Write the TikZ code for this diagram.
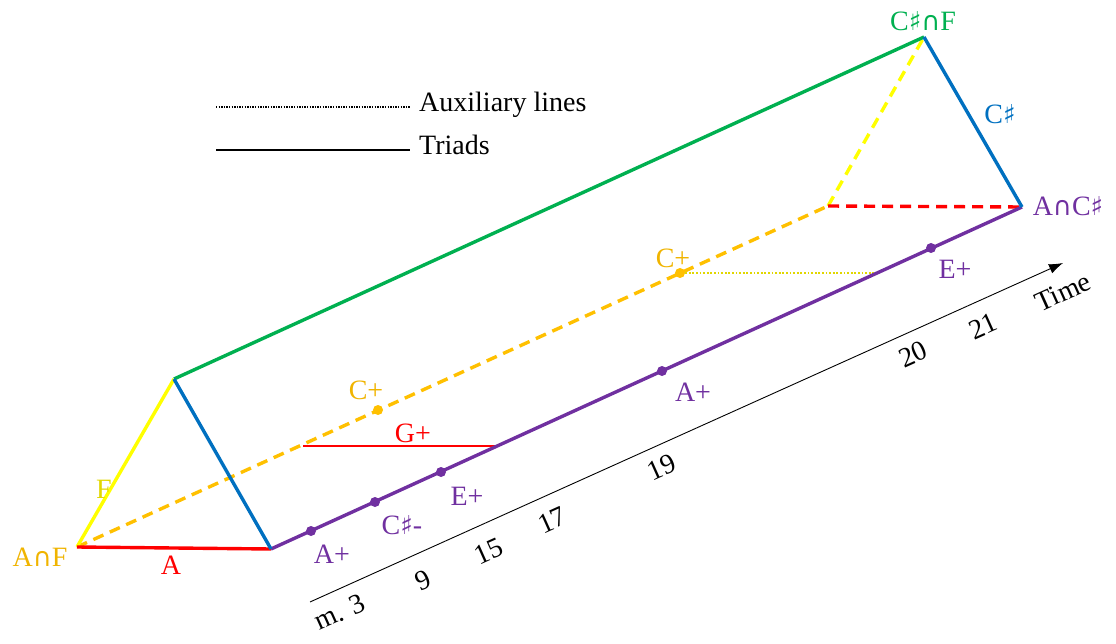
\documentclass[tikz,border=0pt]{standalone}
\usepackage{fontspec}
\setmainfont{Liberation Serif}
\newfontfamily\symf{DejaVu Sans}
\usetikzlibrary{arrows.meta}
\definecolor{cgreen}{RGB}{0,176,80}
\definecolor{cblue}{RGB}{0,112,192}
\definecolor{cpurple}{RGB}{112,48,160}
\definecolor{corange}{RGB}{255,192,0}
\definecolor{ctorange}{RGB}{240,180,0}
\definecolor{cyellow}{RGB}{255,255,0}
\definecolor{ctyellow}{RGB}{225,215,0}
\definecolor{cred}{RGB}{255,0,0}
\newcommand\shp{{\symf\fontsize{26}{30}\selectfont\char"266F}}
\newcommand\capx{{\symf\fontsize{26}{30}\selectfont\char"2229}}
\begin{document}
\begin{tikzpicture}[x=1pt,y=-1pt,
  edge/.style={line width=3.4pt},
  dashedge/.style={line width=3.4pt, dash pattern=on 11pt off 7pt},
  lbl/.style={font=\fontsize{28}{32}\selectfont, inner sep=1pt},
  tick/.style={lbl, rotate=24.2},
  dot/.style={circle, fill, inner sep=0pt, minimum size=10pt}]
\useasboundingbox (0,0) rectangle (1116,644);
% vertices
\coordinate (AF) at (77,547);
\coordinate (FR) at (271,549);
\coordinate (FT) at (174,379);
\coordinate (BT) at (924,37);
\coordinate (BR) at (1022,207);
\coordinate (BL) at (828,206);
% hidden/back edges
\draw[dashedge, corange] (AF) -- (BL);
\draw[dashedge, cyellow] (BL) -- (BT);
\draw[dashedge, cred] (BL) -- (BR);
% auxiliary lines
\coordinate (G1) at (303,446);
\coordinate (G2) at (498,446);
\draw[line width=1.8pt, cred] (G1) -- (G2);
\node[lbl, text=cred] (Glab) at (413,433) {G+};
\node[dot, corange] (C1) at (378,410) {};
\node[dot, corange] (C2) at (680,273) {};
\coordinate (C2e) at (874,273);
\draw[line width=1.8pt, ctyellow, dash pattern=on 1.8pt off 1.8pt] (C2) -- (C2e);
% front/visible edges
\draw[edge, cgreen] (FT) -- (BT);
\draw[edge, cpurple] (FR) -- (BR);
\draw[edge, cyellow] (AF) -- (FT);
\draw[edge, cred] (AF) -- (FR);
\draw[edge, cblue] (FT) -- (FR);
\draw[edge, cblue] (BT) -- (BR);
% purple dots
\node[dot, cpurple] (P1) at (311,531) {};
\node[dot, cpurple] (P2) at (375,502) {};
\node[dot, cpurple] (P3) at (441,472) {};
\node[dot, cpurple] (P4) at (662,371) {};
\node[dot, cpurple] (P5) at (931,248) {};
% vertex labels
\node[lbl, text=ctorange] (lAF) at (40,557) {A\capx F};
\node[lbl, text=cred] (lA) at (171,565) {A};
\node[lbl, text=ctyellow] (lF) at (104,489) {F};
\node[lbl, text=cgreen] (lBT) at (923,21) {C\shp\capx F};
\node[lbl, text=cblue] (lCs) at (1000,114) {C\shp};
\node[lbl, text=cpurple] (lBR) at (1068,206) {A\capx C\shp};
% chord labels
\node[lbl, text=cpurple] (lP1) at (332,554) {A+};
\node[lbl, text=cpurple] (lP2) at (402,525) {C\shp-};
\node[lbl, text=cpurple] (lP3) at (467,496) {E+};
\node[lbl, text=cpurple] (lP4) at (693,392) {A+};
\node[lbl, text=cpurple] (lP5) at (955,269) {E+};
\node[lbl, text=ctorange] (lC1) at (366,390) {C+};
\node[lbl, text=ctorange] (lC2) at (673,258) {C+};
% time axis
\coordinate (T0) at (310,602);
\coordinate (T1) at (1063,263);
\draw[line width=0.9pt, -{Latex[length=14pt,width=10pt]}] (T0) -- (T1);
\node[tick] (m3) at (340,612) {m. 3};
\node[tick] (t9) at (423,580) {9};
\node[tick] (t15) at (489,551) {15};
\node[tick] (t17) at (552,520) {17};
\node[tick] (t19) at (662,467) {19};
\node[tick] (t20) at (913,354) {20};
\node[tick] (t21) at (983,326) {21};
\node[tick] (tT) at (1063,292) {Time};
% legend
\coordinate (L1a) at (216,107);
\coordinate (L1b) at (410,107);
\coordinate (L2a) at (216,150);
\coordinate (L2b) at (410,150);
\draw[line width=1.2pt, dash pattern=on 1.3pt off 1.3pt] (L1a) -- (L1b);
\draw[line width=1.6pt] (L2a) -- (L2b);
\node[lbl, anchor=west] (lg1) at (418,105) {Auxiliary lines};
\node[lbl, anchor=west] (lg2) at (418,145) {Triads};
\end{tikzpicture}
\end{document}
